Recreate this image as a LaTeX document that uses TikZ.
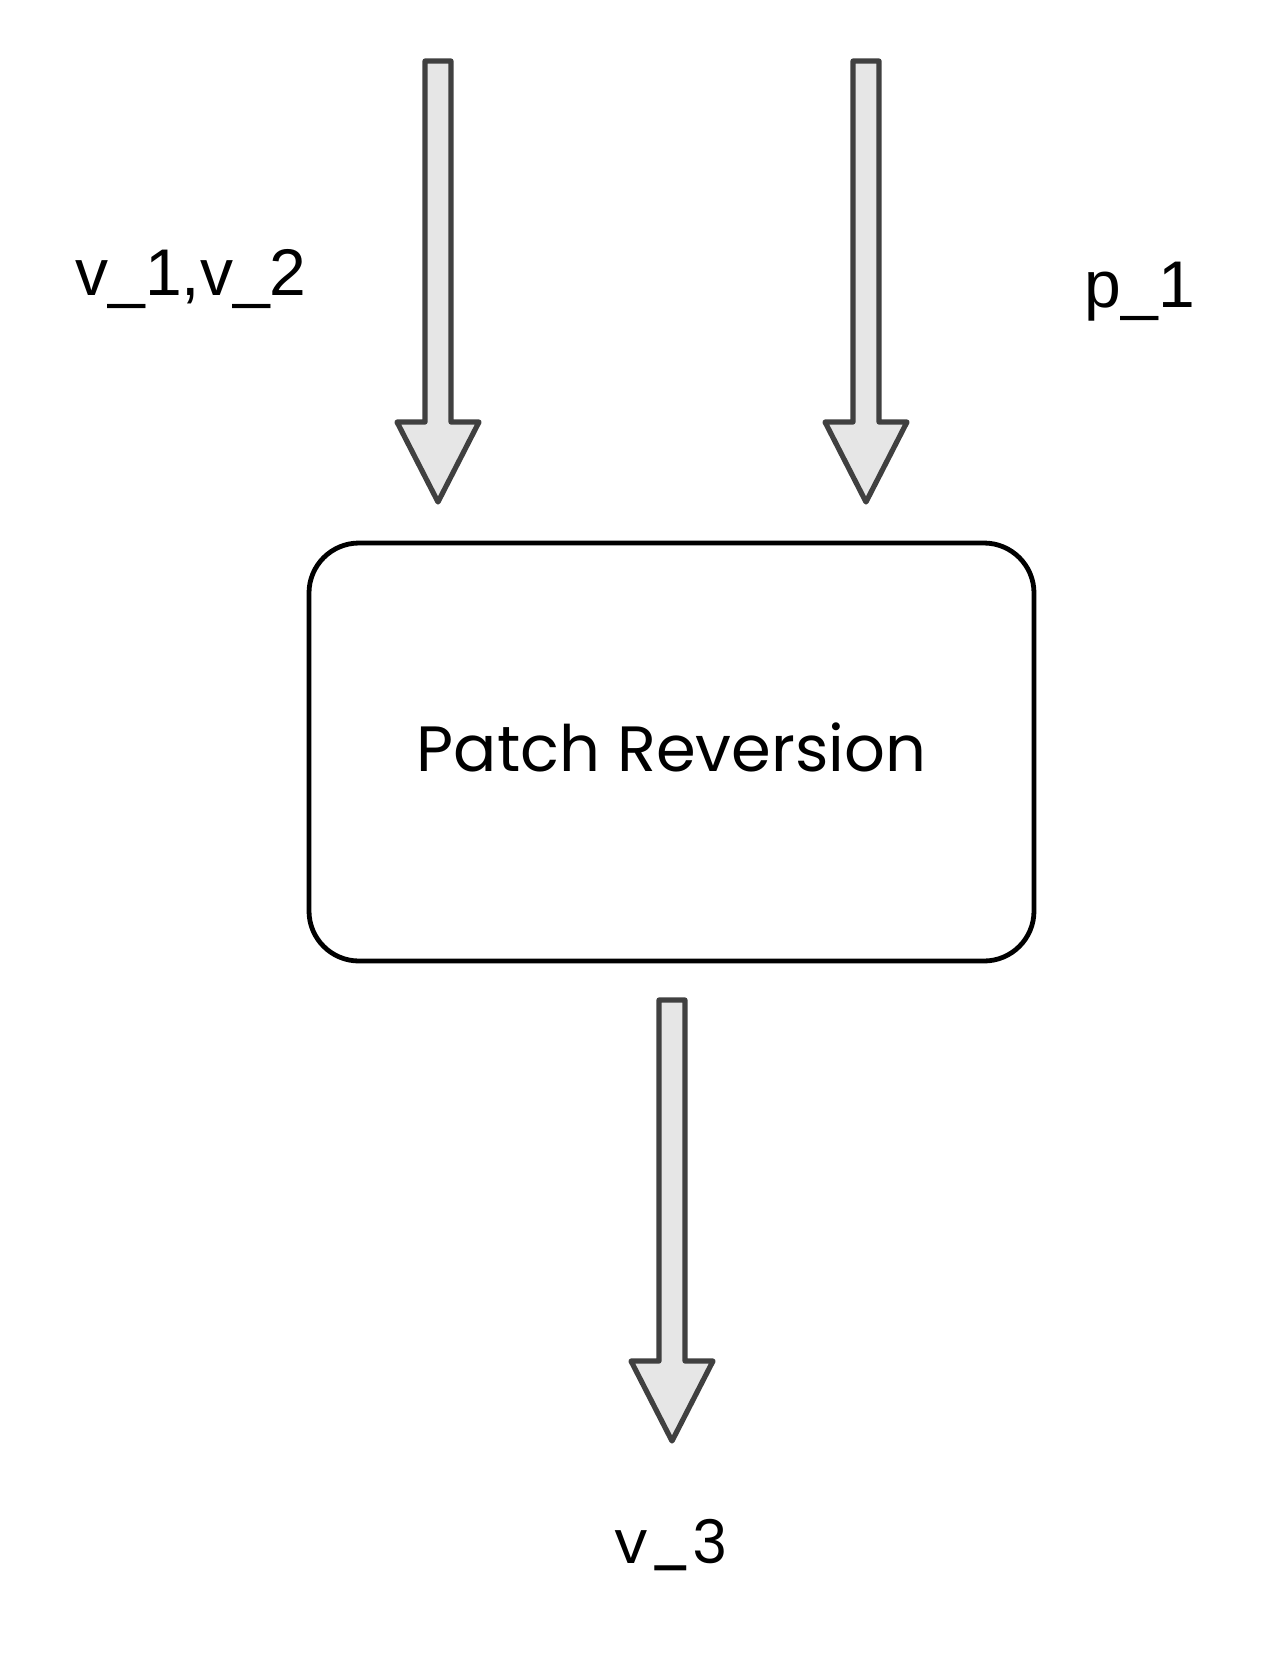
\documentclass[tikz,border=0pt]{standalone}
\usepackage{fontspec}
\setmainfont{Liberation Sans}
\newfontfamily\gothic{Poppins}
\definecolor{arrowgray}{HTML}{404040}
\definecolor{arrowfill}{HTML}{E6E6E6}
\tikzstyle{lbl} = [inner sep=0pt, anchor=base, font=\fontsize{33}{38}\selectfont]
\tikzstyle{block} = [draw, line width=2.4pt, rounded corners=25pt, minimum width=362.5pt, minimum height=209pt, text depth=5pt, font=\gothic\fontsize{32}{38}\selectfont]
\tikzset{pics/bigarrow/.style={code={
	\draw[draw=arrowgray, fill=arrowfill, line width=2.6pt, line join=round] (-13,0) -- (13,0) -- (13,361) -- (41,361) -- (0,441) -- (-41,361) -- (-13,361) -- cycle;
}}}

\begin{document}
\begin{tikzpicture}[x=0.5pt,y=-0.5pt]
			\useasboundingbox (0,0) rectangle (1283,1661);
			\coordinate (inA) at (438,61);
			\coordinate (inB) at (866,61);
			\coordinate (outC) at (672,1000);
			\pic at (inA) {bigarrow};
			\pic at (inB) {bigarrow};
			\pic at (outC) {bigarrow};
			\node[block] (rev) at (671.5,752) {Patch Reversion};
			\node[lbl] (vin) at (191,295) {v\_1,v\_2};
			\node[lbl] (pin) at (1140,307) {p\_1};
			\node[lbl, font=\gothic\fontsize{30}{36}\selectfont] (vout) at (671,1563) {v\_3};
		\end{tikzpicture}
\end{document}
